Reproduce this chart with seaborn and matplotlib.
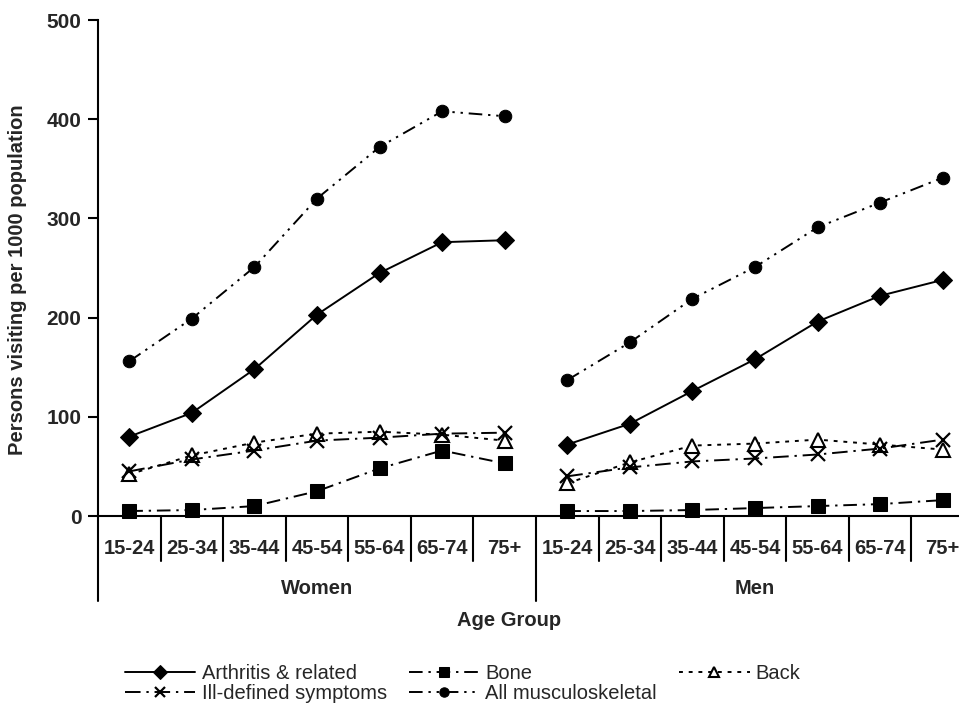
import matplotlib
matplotlib.use("Agg")
import matplotlib.pyplot as plt
import matplotlib.transforms as mtransforms
import seaborn as sns
import pandas as pd

# data
sexes = ["Women", "Men"]
age_groups = ["15-24", "25-34", "35-44", "45-54", "55-64", "65-74", "75+"]
series_names = ["Arthritis & related", "Bone", "Back",
                "Ill-defined symptoms", "All musculoskeletal"]

women_arthritis = [80, 104, 148, 203, 245, 276, 278]
women_bone = [5, 6, 10, 25, 48, 66, 53]
women_back = [42, 61, 74, 83, 85, 82, 76]
women_ill = [45, 57, 66, 76, 79, 83, 84]
women_all = [156, 199, 251, 320, 372, 408, 403]

men_arthritis = [72, 93, 126, 158, 196, 222, 238]
men_bone = [5, 5, 6, 8, 10, 12, 16]
men_back = [33, 54, 71, 73, 77, 72, 67]
men_ill = [40, 49, 55, 58, 62, 68, 77]
men_all = [137, 175, 219, 251, 291, 316, 341]

values = {
    "Women": [women_arthritis, women_bone, women_back, women_ill, women_all],
    "Men": [men_arthritis, men_bone, men_back, men_ill, men_all],
}

rows = []
for i, sex in enumerate(sexes):
    for s, name in enumerate(series_names):
        for j, age in enumerate(age_groups):
            rows.append({"sex": sex, "age": age, "pos": i * len(age_groups) + j,
                         "series": name, "value": values[sex][s][j]})
df = pd.DataFrame(rows)

styles = {
    "Arthritis & related": dict(marker="D", markersize=9.5, linestyle="-",
                                mfc="black", mec="black"),
    "Bone": dict(marker="s", markersize=9.5, linestyle=(0, (7, 3, 1.2, 3)),
                 mfc="black", mec="black"),
    "Back": dict(marker="^", markersize=10, linestyle=(0, (2, 3)),
                 mfc="white", mec="black", mew=1.5),
    "Ill-defined symptoms": dict(marker="x", markersize=10.5, linestyle=(0, (8, 3, 1.2, 3)),
                                 mec="black", mew=1.6),
    "All musculoskeletal": dict(marker="o", markersize=9,
                                linestyle=(0, (7, 3, 1.2, 3, 1.2, 3)),
                                mfc="black", mec="black"),
}

sns.set_style("ticks")
plt.rcParams["font.family"] = ["Liberation Sans", "DejaVu Sans"]

fig = plt.figure(figsize=(9.59, 7.12), dpi=100)
ax = fig.add_axes([98 / 959, 196 / 712, 876 / 959, 496 / 712])

for name in series_names:
    for sex in sexes:
        sub = df[(df["series"] == name) & (df["sex"] == sex)]
        sns.lineplot(data=sub, x="pos", y="value", ax=ax, color="black",
                     linewidth=1.4, label=name if sex == "Women" else "_nolegend_",
                     legend=False, clip_on=False, **styles[name])

n = len(age_groups) * len(sexes)
ax.set_xlim(-0.5, n - 0.5)
ax.set_ylim(0, 500)
ax.set_yticks(range(0, 501, 100))
ax.set_xticks([])
ax.set_xlabel("")
ax.set_ylabel("")
for lab in ax.get_yticklabels():
    lab.set_fontweight("bold")
    lab.set_fontsize(15)
ax.tick_params(axis="y", length=7, width=1.5, pad=5, color="black")
for side in ["top", "right"]:
    ax.spines[side].set_visible(False)
for side in ["left", "bottom"]:
    ax.spines[side].set_linewidth(1.5)
    ax.spines[side].set_color("black")

# category labels and separators under the axis
trans = mtransforms.blended_transform_factory(ax.transData, ax.transAxes)
short_y = -45 / 496
long_y = -85 / 496
for k in range(n + 1):
    x = k - 0.5
    bottom = long_y if k % len(age_groups) == 0 else short_y
    ax.plot([x, x], [0, bottom], transform=trans, color="black",
            linewidth=1.5, clip_on=False)
for i, sex in enumerate(sexes):
    for j, age in enumerate(age_groups):
        ax.text(i * len(age_groups) + j, -32 / 496, age, transform=trans,
                ha="center", va="center", fontsize=14.5, fontweight="bold")
    ax.text(i * len(age_groups) + 3, -72 / 496, sex, transform=trans,
            ha="center", va="center", fontsize=14.5, fontweight="bold")
ax.text(6.07, -104 / 496, "Age Group", transform=trans,
        ha="center", va="center", fontsize=14.5, fontweight="bold")

fig.text(18 / 959, 1 - 280 / 712, "Persons visiting per 1000 population",
         rotation=90, ha="center", va="center", fontsize=14.5, fontweight="bold")

handles, labels = ax.get_legend_handles_labels()
order = ["Arthritis & related", "Ill-defined symptoms", "Bone",
         "All musculoskeletal", "Back"]
hmap = dict(zip(labels, handles))
fig.legend([hmap[o] for o in order], order, ncol=3, loc="upper left",
           bbox_to_anchor=(125 / 959, 1 - 664 / 712), frameon=False,
           fontsize=14.5, handlelength=3.5, handletextpad=0.3, markerscale=0.75,
           columnspacing=1.1, labelspacing=0.05, borderpad=0, borderaxespad=0)

fig.savefig("out.png", dpi=100)
